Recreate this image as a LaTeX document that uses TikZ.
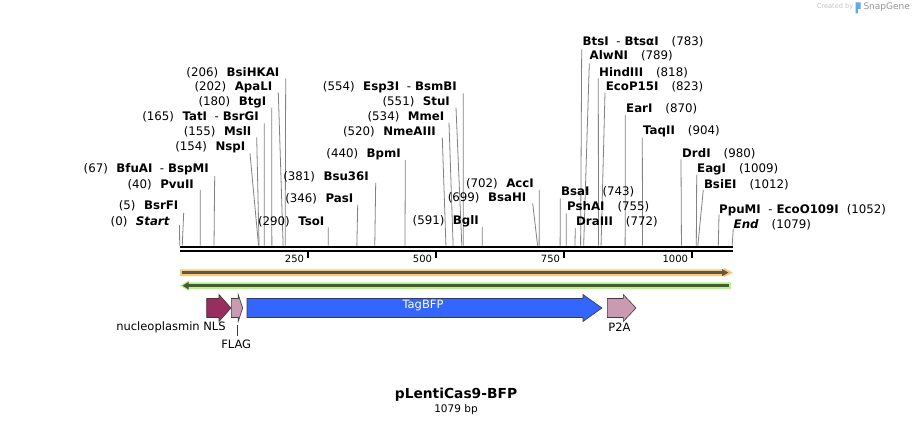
\documentclass[tikz,border=0pt]{standalone}
\usepackage{fontspec}
\setmainfont{DejaVu Sans}
\usetikzlibrary{calc}
\definecolor{cutgray}{RGB}{130,130,130}
\definecolor{orgout}{RGB}{250,200,120}
\definecolor{orgin}{RGB}{100,88,60}
\definecolor{grnout}{RGB}{184,240,140}
\definecolor{grnin}{RGB}{72,88,56}
\definecolor{nlscol}{RGB}{153,45,95}
\definecolor{pinkcol}{RGB}{204,153,179}
\definecolor{bfpcol}{RGB}{51,102,255}
\definecolor{featline}{RGB}{60,60,60}
\definecolor{sgtext}{RGB}{195,195,195}
\definecolor{sgname}{RGB}{150,150,150}
\definecolor{sgblue}{RGB}{90,170,240}

\newcommand\enzL[7]{%
  \node[lbl,anchor=east] (n#1) at (#2,#3) {#7};
  \coordinate (t#1) at (#4,#5);
  \coordinate (s#1) at ({179.7+0.512*#6},245.6);
  \draw[cut] (t#1) -- (s#1);}
\newcommand\enzR[7]{%
  \node[lbl,anchor=west] (n#1) at (#2,#3) {#7};
  \coordinate (t#1) at (#4,#5);
  \coordinate (s#1) at ({179.7+0.512*#6},245.6);
  \draw[cut] (t#1) -- (s#1);}
\newcommand\lbA[2]{(#1)\hspace{8.5pt}\textbf{#2}}
\newcommand\lbB[3]{(#1)\hspace{8.5pt}\textbf{#2}\hspace{7.5pt}-\hspace{4pt}\textbf{#3}}
\newcommand\rbA[2]{\textbf{#1}\hspace{13pt}(#2)}
\newcommand\rbB[3]{\textbf{#1}\hspace{7.5pt}-\hspace{4pt}\textbf{#2}\hspace{13pt}(#3)}
\newcommand\featarrow[5]{% name, x0, headbase, tip, color
  \fill[#5, draw=featline, line width=0.6pt] (#2,298.5) -- (#3,298.5) -- (#3,294.5) -- (#4,308) -- (#3,321.5) -- (#3,317.5) -- (#2,317.5) -- cycle;
  \coordinate (#1) at ({(#2+#4)/2},308);}

\begin{document}
\begin{tikzpicture}[x=1pt,y=-1pt,
  lbl/.style={inner sep=0pt, font=\fontsize{11.8}{14}\selectfont},
  cut/.style={draw=cutgray, line width=0.8pt},
  bb/.style={line width=2.3pt, draw=black},
  tickmark/.style={line width=1.8pt, draw=black},
  ticklbl/.style={inner sep=0pt, anchor=east, font=\fontsize{10}{12}\selectfont},
  featlbl/.style={inner sep=0pt, font=\fontsize{11.5}{13}\selectfont},
]
\fill[white] (0,0) rectangle (914,425);
\useasboundingbox (0,0) rectangle (914,425);

% enzyme sites, left-hand labels
\enzL{bsihkai}{279.5}{72.3}{285.7}{78.3}{206}{\lbA{206}{BsiHKAI}}
\enzL{apali}{272.5}{87.3}{278.3}{92.3}{202}{\lbA{202}{ApaLI}}
\enzL{btgi}{266.5}{102.3}{271.7}{107.7}{180}{\lbA{180}{BtgI}}
\enzL{tati}{259}{117.3}{264.3}{123.3}{165}{\lbB{165}{TatI}{BsrGI}}
\enzL{msli}{251.5}{131.7}{256.7}{137.3}{155}{\lbA{155}{MslI}}
\enzL{nspi}{245.5}{147.3}{250}{153.3}{154}{\lbA{154}{NspI}}
\enzL{bfuai}{209}{169}{214.7}{176}{67}{\lbB{67}{BfuAI}{BspMI}}
\enzL{pvuii}{194}{185}{200.3}{190}{40}{\lbA{40}{PvuII}}
\enzL{bsrfi}{178.5}{205.7}{183.7}{212.7}{5}{\lbA{5}{BsrFI}}
\enzL{start}{170}{221.7}{179.5}{225}{0}{(0)\hspace{8.5pt}\textbf{\itshape Start}}
\enzL{esp}{457}{87.3}{463.3}{93.3}{554}{\lbB{554}{Esp3I}{BsmBI}}
\enzL{stui}{450}{101.7}{456}{107.7}{551}{\lbA{551}{StuI}}
\enzL{mmei}{444.5}{117.3}{449}{122.7}{534}{\lbA{534}{MmeI}}
\enzL{nmeaiii}{436}{131.7}{442.3}{137.7}{520}{\lbA{520}{NmeAIII}}
\enzL{bpmi}{401}{154.3}{405.3}{160}{440}{\lbA{440}{BpmI}}
\enzL{bsu}{369}{176.7}{375.7}{183}{381}{\lbA{381}{Bsu36I}}
\enzL{pasi}{353.5}{198.7}{357.7}{205}{346}{\lbA{346}{PasI}}
\enzL{tsoi}{324.5}{221.7}{328.3}{227.3}{290}{\lbA{290}{TsoI}}
\enzL{bgli}{479}{221.7}{482.3}{227}{591}{\lbA{591}{BglI}}
\enzL{bsahi}{526.5}{198.3}{532.7}{203.3}{699}{\lbA{699}{BsaHI}}
\enzL{acci}{534}{184}{539.3}{190}{702}{\lbA{702}{AccI}}

% enzyme sites, right-hand labels
\enzR{btsi}{582.5}{41.7}{581.7}{49.3}{783}{\rbB{BtsI}{BtsαI}{783}}
\enzR{alwni}{589.5}{56}{589.3}{63.3}{789}{\rbA{AlwNI}{789}}
\enzR{hindiii}{599}{72.3}{598.3}{78.3}{818}{\rbA{HindIII}{818}}
\enzR{ecop}{605.7}{86.7}{605}{92.7}{823}{\rbA{EcoP15I}{823}}
\enzR{eari}{626}{109.3}{625.3}{115}{870}{\rbA{EarI}{870}}
\enzR{taqii}{643}{131.7}{642.3}{137.7}{904}{\rbA{TaqII}{904}}
\enzR{bsai}{561}{192.3}{560.3}{198.3}{743}{\rbA{BsaI}{743}}
\enzR{pshai}{567}{206.7}{566.3}{213.3}{755}{\rbA{PshAI}{755}}
\enzR{draiii}{576}{222.3}{575.3}{228}{772}{\rbA{DraIII}{772}}
\enzR{drdi}{682}{153.3}{681}{159.3}{980}{\rbA{DrdI}{980}}
\enzR{eagi}{697}{169.3}{696.7}{175}{1009}{\rbA{EagI}{1009}}
\enzR{bsiei}{703.8}{184.3}{703.3}{190}{1012}{\rbA{BsiEI}{1012}}
\enzR{ppumi}{719}{210}{719}{214.5}{1052}{\textbf{PpuMI}\hspace{7.5pt}-\hspace{4pt}\textbf{EcoO109I}\hspace{8pt}(1052)}
\enzR{end}{733.5}{225}{733.3}{228.5}{1079}{\textbf{\itshape End}\hspace{13pt}(1079)}

% backbone
\coordinate (bbL) at (179.5,247.2);
\coordinate (bbR) at (733,247.2);
\draw[bb] (bbL) -- (bbR);
\draw[bb, line width=2.1pt] ($(bbL)+(0,4.1)$) -- ($(bbR)+(0,4.1)$);
\foreach \p in {250,500,750,1000}{
  \coordinate (tk\p) at ({179.7+0.512*\p},252.4);
  \draw[tickmark] (tk\p) -- ++(0,5.9);
  \node[ticklbl] (tl\p) at ($(tk\p)+(-3.5,6)$) {\p};
}

% orange feature (forward, full length)
\fill[orgout] (180,269.3) -- (724,269.3) -- (724,267.8) -- (733,272.6) -- (724,277.4) -- (724,276) -- (180,276) -- cycle;
\draw[orgin, line width=2.5pt] (182,272.6) -- (723,272.6);
\fill[orgin] (722,269) -- (728.5,272.6) -- (722,276.2) -- cycle;

% green feature (reverse, full length)
\fill[grnout] (180,285.7) -- (189,280.4) -- (189,282.3) -- (731,282.3) -- (731,289.1) -- (189,289.1) -- (189,291) -- cycle;
\draw[grnin, line width=2.6pt] (187,285.7) -- (729,285.7);
\fill[grnin] (182.5,285.7) -- (188.5,282) -- (188.5,289.4) -- cycle;

% features
\featarrow{fnls}{206.7}{219}{231}{nlscol}
\featarrow{fflag}{231.3}{238.2}{242.7}{pinkcol}
\featarrow{fbfp}{247}{583}{602}{bfpcol}
\featarrow{fp2a}{607.3}{623.3}{636}{pinkcol}

\node[featlbl, text=white] (lbfp) at (423,306) {TagBFP};
\node[featlbl] (lnls) at (171,327.7) {nucleoplasmin NLS};
\node[featlbl] (lp2a) at (619.5,327.7) {P2A};
\node[featlbl] (lflag) at (236.2,344) {FLAG};
\coordinate (flagA) at (237.3,324.8);
\coordinate (flagB) at (237.3,335.6);
\draw[featline, line width=0.6pt] (flagA) -- (flagB);

% title
\node[inner sep=0pt, font=\bfseries\fontsize{13.8}{16}\selectfont] (title) at (456,394.3) {pLentiCas9-BFP};
\node[inner sep=0pt, font=\fontsize{10.5}{12}\selectfont] (len) at (456,409.4) {1079 bp};

% credit
\node[inner sep=0pt, anchor=west, text=sgtext, font=\fontsize{6.6}{8}\selectfont] (cby) at (816.7,7) {Created by};
\fill[sgblue] (855.5,2.5) -- (860.5,2.5) -- (860.5,9) -- (857.8,9) -- (857.8,13.5) -- (855.5,13.5) -- cycle;
\node[inner sep=0pt, anchor=west, text=sgname, font=\fontsize{9}{10}\selectfont] (sgn) at (863.3,7) {SnapGene};
\end{tikzpicture}
\end{document}
